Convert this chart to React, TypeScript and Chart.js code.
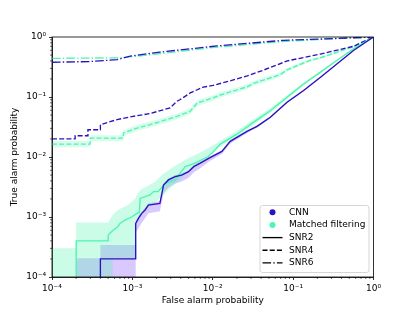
import React, { useEffect, useRef } from "react";
import { Chart, registerables } from "chart.js";

Chart.register(...registerables);

const CNN_COLOR = "#2b12bd";
const MF_COLOR = "#4cf5b2";
const CNN_BAND = "rgba(150,100,255,0.35)";
const MF_BAND = "rgba(80,245,175,0.3)";
const MF_BAND_LIGHT = "rgba(80,245,175,0.22)";
const FONT = '"DejaVu Sans", Verdana, sans-serif';
const DASHED = [5, 2.2];
const DASHDOT = [8.6, 2.2, 1.4, 2.2];
const LW = 1.35;

// ticks
const xTickValues = [1e-4, 1e-3, 1e-2, 1e-1, 1];
const xTickLabels = ["10⁻⁴", "10⁻³", "10⁻²", "10⁻¹", "10⁰"];
const yTickValues = [1e-4, 1e-3, 1e-2, 1e-1, 1];
const yTickLabels = ["10⁻⁴", "10⁻³", "10⁻²", "10⁻¹", "10⁰"];
const minorDecades = [1e-4, 1e-3, 1e-2, 1e-1];
const minorMultipliers = [2, 3, 4, 5, 6, 7, 8, 9];

// SNR2 (solid)
const cnnSnr2X = [4e-4, 4e-4, 1.1e-3, 1.1e-3, 1.19e-3, 1.31e-3, 1.44e-3, 1.58e-3, 2.2e-3, 2.33e-3, 2.44e-3, 2.81e-3, 3.41e-3, 4.1e-3, 5.0e-3, 5.8e-3, 7.0e-3, 8.9e-3, 0.013, 0.0165, 0.0267, 0.0356, 0.052, 0.084, 0.135, 0.219, 0.353, 0.569, 1];
const cnnSnr2Y = [1e-5, 2e-4, 2e-4, 7.8e-4, 9.5e-4, 1.15e-3, 1.31e-3, 1.58e-3, 1.69e-3, 2.48e-3, 3.4e-3, 4.15e-3, 4.7e-3, 5.0e-3, 5.7e-3, 6.9e-3, 7.9e-3, 9.5e-3, 0.0124, 0.0182, 0.0267, 0.0324, 0.046, 0.082, 0.128, 0.214, 0.357, 0.6, 1];
const mfSnr2X = [2e-4, 2e-4, 5e-4, 5e-4, 5.75e-4, 6.6e-4, 7.0e-4, 8.1e-4, 9.8e-4, 1.14e-3, 1.22e-3, 1.25e-3, 1.66e-3, 1.83e-3, 2.09e-3, 2.56e-3, 3.41e-3, 4.54e-3, 6.05e-3, 8.8e-3, 9.8e-3, 0.0124, 0.02, 0.032, 0.052, 0.084, 0.135, 0.219, 0.353, 0.569, 1];
const mfSnr2Y = [1e-5, 4e-4, 4e-4, 5e-4, 6.0e-4, 6.9e-4, 7.8e-4, 8.9e-4, 1.0e-3, 1.15e-3, 1.18e-3, 2.04e-3, 2.33e-3, 2.65e-3, 2.65e-3, 3.65e-3, 4.15e-3, 6.9e-3, 7.9e-3, 0.0102, 0.0116, 0.0164, 0.024, 0.0378, 0.059, 0.099, 0.165, 0.26, 0.41, 0.64, 1];

// SNR2 confidence bands
const cnnSnr2BandX = [2e-4, 4e-4, 4e-4, 1.1e-3, 1.1e-3, 1.19e-3, 1.31e-3, 1.44e-3, 1.58e-3, 2.2e-3, 2.33e-3, 2.44e-3, 2.81e-3, 3.41e-3, 4.1e-3, 5.0e-3, 5.8e-3, 7.0e-3, 8.9e-3, 0.013, 0.0165, 0.0267, 0.0356, 0.052, 0.084, 0.135, 0.219, 0.353, 0.569, 1];
const cnnSnr2BandHi = [2.05e-4, 2.05e-4, 3.4e-4, 3.4e-4, 8.5e-4, 1.05e-3, 1.25e-3, 1.42e-3, 1.7e-3, 1.85e-3, 2.7e-3, 3.6e-3, 4.4e-3, 5.0e-3, 5.3e-3, 6.0e-3, 7.3e-3, 8.3e-3, 0.01, 0.013, 0.019, 0.028, 0.034, 0.048, 0.085, 0.132, 0.22, 0.365, 0.61, 1];
const cnnSnr2BandLo = [1e-5, 1e-5, 1e-5, 1e-5, 5.5e-4, 6.5e-4, 8e-4, 9.5e-4, 1.15e-3, 1.25e-3, 1.8e-3, 2.5e-3, 3.1e-3, 3.6e-3, 3.9e-3, 4.5e-3, 5.5e-3, 6.5e-3, 8.3e-3, 0.0112, 0.0168, 0.0252, 0.031, 0.044, 0.079, 0.124, 0.208, 0.35, 0.59, 1];
const mfSnr2BandX = [1e-4, 2e-4, 2e-4, 5e-4, 5.7e-4, 5.7e-4, 6.6e-4, 8.8e-4, 1.08e-3, 1.08e-3, 1.17e-3, 1.3e-3, 1.91e-3, 2.33e-3, 3.1e-3, 4.5e-3, 6.0e-3, 8.0e-3, 0.0124, 0.02, 0.032, 0.052, 0.084, 0.135, 0.219, 0.353, 0.569, 1];
const mfSnr2BandHi = [3.0e-4, 3.0e-4, 8.1e-4, 8.1e-4, 1.08e-3, 1.08e-3, 1.31e-3, 1.58e-3, 2.0e-3, 2.0e-3, 2.51e-3, 2.9e-3, 3.83e-3, 5.0e-3, 6.6e-3, 8.9e-3, 0.0108, 0.0131, 0.0185, 0.027, 0.042, 0.065, 0.107, 0.175, 0.27, 0.42, 0.65, 1];
const mfSnr2BandLo = [1e-5, 1e-5, 1e-5, 1e-5, 1e-5, 2.05e-4, 2.05e-4, 2.05e-4, 2.05e-4, 8.2e-4, 9e-4, 1.2e-3, 1.75e-3, 2.2e-3, 3.2e-3, 5.0e-3, 6.6e-3, 8.8e-3, 0.0148, 0.0215, 0.034, 0.054, 0.092, 0.155, 0.25, 0.4, 0.63, 1];

// SNR4 (dashed)
const cnnSnr4X = [1e-4, 1.94e-4, 1.94e-4, 2.8e-4, 2.8e-4, 4e-4, 4e-4, 6.45e-4, 1.02e-3, 1.66e-3, 2.95e-3, 3.6e-3, 3.94e-3, 5.25e-3, 7.6e-3, 0.0101, 0.0165, 0.0269, 0.0426, 0.0847, 0.218, 0.564, 1];
const cnnSnr4Y = [0.02, 0.02, 0.0226, 0.0226, 0.0285, 0.0285, 0.0346, 0.042, 0.0476, 0.053, 0.066, 0.085, 0.0907, 0.117, 0.146, 0.156, 0.186, 0.225, 0.28, 0.4, 0.52, 0.7, 1];
const mfSnr4X = [1e-4, 2.98e-4, 2.98e-4, 7.7e-4, 7.7e-4, 1.14e-3, 1.66e-3, 3.6e-3, 5.25e-3, 6.4e-3, 0.0101, 0.0124, 0.0269, 0.0318, 0.069, 0.0847, 0.164, 0.218, 0.564, 1];
const mfSnr4Y = [0.0164, 0.0164, 0.0206, 0.0206, 0.025, 0.0303, 0.0346, 0.0476, 0.0578, 0.0795, 0.0964, 0.108, 0.148, 0.168, 0.235, 0.285, 0.41, 0.45, 0.69, 1];
const mfSnr4BandHi = [0.0185, 0.0185, 0.023, 0.023, 0.028, 0.034, 0.039, 0.053, 0.065, 0.088, 0.107, 0.12, 0.163, 0.185, 0.255, 0.305, 0.435, 0.475, 0.71, 1];
const mfSnr4BandLo = [0.0145, 0.0145, 0.0183, 0.0183, 0.0222, 0.027, 0.031, 0.0425, 0.0515, 0.071, 0.087, 0.097, 0.134, 0.152, 0.215, 0.265, 0.385, 0.425, 0.67, 1];

// SNR6 (dash-dot)
const cnnSnr6X = [1e-4, 3e-4, 6.5e-4, 9.4e-4, 2.2e-3, 0.0114, 0.0755, 0.2, 1];
const cnnSnr6Y = [0.38, 0.39, 0.42, 0.48, 0.56, 0.71, 0.88, 0.92, 1];
const mfSnr6X = [1e-4, 6.5e-4, 1e-3, 2.4e-3, 0.0114, 0.0755, 0.2, 1];
const mfSnr6Y = [0.44, 0.45, 0.47, 0.535, 0.68, 0.84, 0.905, 1];

const legendLabels = ["CNN", "Matched filtering", "SNR2", "SNR4", "SNR6"];

const pts = (xs: number[], ys: number[]) => xs.map((x, i) => ({ x, y: ys[i] }));
const poly = (xs: number[], hi: number[], lo: number[]) => [...pts(xs, hi), ...pts(xs, lo).reverse()];

const lineDs = (data: any, color: string, dash: number[]) => ({
  data,
  borderColor: color,
  borderWidth: LW,
  borderDash: dash,
  pointRadius: 0,
  fill: false,
  tension: 0,
  order: 0,
});
const bandDs = (data: any, color: string, order: number) => ({
  data,
  borderColor: "rgba(0,0,0,0)",
  borderWidth: 0,
  backgroundColor: color,
  pointRadius: 0,
  fill: "shape",
  tension: 0,
  order,
});

const decorPlugin = {
  id: "decor",
  afterDraw(chart: any) {
    const ctx = chart.ctx;
    const ca = chart.chartArea;
    const xs = chart.scales.x;
    const ys = chart.scales.y;
    ctx.save();
    ctx.strokeStyle = "#000";
    ctx.lineWidth = 0.6;
    ctx.setLineDash([]);
    ctx.beginPath();
    for (const d of minorDecades) {
      for (const m of minorMultipliers) {
        const v = d * m;
        const px = xs.getPixelForValue(v);
        ctx.moveTo(px, ca.bottom);
        ctx.lineTo(px, ca.bottom + 2);
        const py = ys.getPixelForValue(v);
        ctx.moveTo(ca.left, py);
        ctx.lineTo(ca.left - 2, py);
      }
    }
    ctx.stroke();
    ctx.lineWidth = 0.8;
    ctx.strokeRect(ca.left, ca.top, ca.right - ca.left, ca.bottom - ca.top);

    // legend
    const bw = 109;
    const bh = 67;
    const bx = ca.right - 4.5 - bw;
    const by = ca.bottom - 4.5 - bh;
    const r = 2.5;
    ctx.beginPath();
    ctx.moveTo(bx + r, by);
    ctx.lineTo(bx + bw - r, by);
    ctx.arcTo(bx + bw, by, bx + bw, by + r, r);
    ctx.lineTo(bx + bw, by + bh - r);
    ctx.arcTo(bx + bw, by + bh, bx + bw - r, by + bh, r);
    ctx.lineTo(bx + r, by + bh);
    ctx.arcTo(bx, by + bh, bx, by + bh - r, r);
    ctx.lineTo(bx, by + r);
    ctx.arcTo(bx, by, bx + r, by, r);
    ctx.closePath();
    ctx.fillStyle = "rgba(255,255,255,0.8)";
    ctx.fill();
    ctx.strokeStyle = "#cccccc";
    ctx.lineWidth = 0.8;
    ctx.stroke();

    ctx.font = `9px ${FONT}`;
    ctx.textBaseline = "middle";
    ctx.textAlign = "left";
    legendLabels.forEach((label, i) => {
      const cy = by + 6.8 + i * 12.65;
      const hx0 = bx + 2.5;
      const hx1 = bx + 22.5;
      if (i < 2) {
        ctx.fillStyle = i === 0 ? CNN_COLOR : MF_COLOR;
        ctx.beginPath();
        ctx.arc((hx0 + hx1) / 2, cy, 3, 0, Math.PI * 2);
        ctx.fill();
      } else {
        ctx.strokeStyle = "#000";
        ctx.lineWidth = LW;
        ctx.setLineDash(i === 2 ? [] : i === 3 ? DASHED : DASHDOT);
        ctx.beginPath();
        ctx.moveTo(hx0, cy);
        ctx.lineTo(hx1, cy);
        ctx.stroke();
        ctx.setLineDash([]);
      }
      ctx.fillStyle = "#000";
      ctx.fillText(label, bx + 29, cy);
    });
    ctx.restore();
  },
};

const findLabel = (values: number[], labels: string[], v: number) => {
  const i = values.findIndex((t) => Math.abs(Math.log10(t) - Math.log10(v)) < 1e-6);
  return i >= 0 ? labels[i] : "";
};

export default function App() {
  const ref = useRef<HTMLCanvasElement | null>(null);
  useEffect(() => {
    if (!ref.current) return;
    const chart = new Chart(ref.current, {
      type: "line",
      data: {
        datasets: [
          lineDs(pts(cnnSnr2X, cnnSnr2Y), CNN_COLOR, []),
          lineDs(pts(mfSnr2X, mfSnr2Y), MF_COLOR, []),
          lineDs(pts(cnnSnr4X, cnnSnr4Y), CNN_COLOR, DASHED),
          lineDs(pts(mfSnr4X, mfSnr4Y), MF_COLOR, DASHED),
          lineDs(pts(cnnSnr6X, cnnSnr6Y), CNN_COLOR, DASHDOT),
          lineDs(pts(mfSnr6X, mfSnr6Y), MF_COLOR, DASHDOT),
          bandDs(poly(mfSnr2BandX, mfSnr2BandHi, mfSnr2BandLo), MF_BAND, 1),
          bandDs(poly(mfSnr4X, mfSnr4BandHi, mfSnr4BandLo), MF_BAND_LIGHT, 1),
          bandDs(poly(cnnSnr2BandX, cnnSnr2BandHi, cnnSnr2BandLo), CNN_BAND, 2),
        ] as any,
      },
      options: {
        animation: false,
        responsive: true,
        maintainAspectRatio: false,
        devicePixelRatio: 1,
        events: [],
        layout: { padding: { left: 0, right: 41.5, top: 37, bottom: 0 } },
        plugins: { legend: { display: false }, tooltip: { enabled: false } },
        scales: {
          x: {
            type: "logarithmic",
            min: 1e-4,
            max: 1,
            afterBuildTicks: (s: any) => {
              s.ticks = xTickValues.map((v) => ({ value: v }));
            },
            afterFit: (s: any) => {
              s.height = 34;
            },
            ticks: {
              callback: (v: any) => findLabel(xTickValues, xTickLabels, Number(v)),
              font: { family: FONT, size: 9 },
              color: "#000",
              maxRotation: 0,
              autoSkip: false,
              padding: 3,
            },
            grid: { display: true, drawOnChartArea: false, drawTicks: true, tickLength: 3, tickColor: "#000", tickWidth: 0.8 },
            border: { display: true, color: "#000", width: 0.8 },
            title: { display: true, text: "False alarm probability", font: { family: FONT, size: 9 }, color: "#000", padding: { top: 0, bottom: 5 } },
          },
          y: {
            type: "logarithmic",
            min: 1e-4,
            max: 1,
            afterBuildTicks: (s: any) => {
              s.ticks = yTickValues.map((v) => ({ value: v }));
            },
            afterFit: (s: any) => {
              s.width = 52;
            },
            ticks: {
              callback: (v: any) => findLabel(yTickValues, yTickLabels, Number(v)),
              font: { family: FONT, size: 9 },
              color: "#000",
              autoSkip: false,
              padding: 3,
            },
            grid: { display: true, drawOnChartArea: false, drawTicks: true, tickLength: 3, tickColor: "#000", tickWidth: 0.8 },
            border: { display: true, color: "#000", width: 0.8 },
            title: { display: true, text: "True alarm probability", font: { family: FONT, size: 9 }, color: "#000", padding: { top: 9, bottom: 0 } },
          },
        },
      } as any,
      plugins: [decorPlugin],
    });
    return () => chart.destroy();
  }, []);
  return (
    <div style={{ position: "fixed", left: 0, top: 0, width: 415, height: 311, background: "#fff" }}>
      <canvas ref={ref} />
    </div>
  );
}
